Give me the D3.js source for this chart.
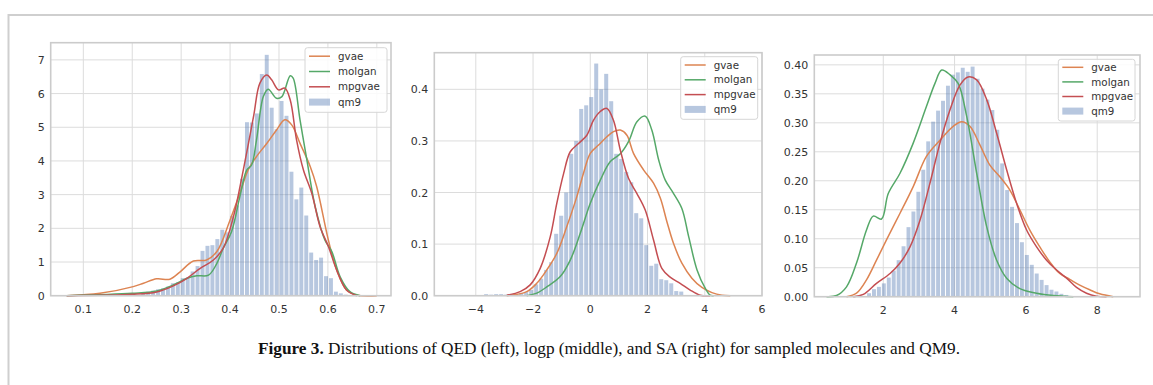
<!DOCTYPE html>
<html>
<head>
<meta charset="utf-8">
<script src="https://cdn.jsdelivr.net/npm/d3@7"></script>
<style>
  body { margin: 0; background: #fff; }
  svg text { font-family: "DejaVu Sans", sans-serif; }
</style>
</head>
<body>
<svg id="chart" width="1153" height="385"></svg>
<script>
// series names and colours (seaborn "deep")
const seriesNames = ['gvae', 'molgan', 'mpgvae', 'qm9']
const seriesColors = ['#dd8452', '#55a868', '#c44e52', '#4c72b0']

// ---- QED (left) ----
const qedBinStart = 0.2174
const qedBinWidth = 0.0101
const qedHist = [0.10,0.12,0.15,0.19,0.22,0.27,0.37,0.40,0.52,0.54,0.72,0.88,1.33,1.48,1.50,1.68,1.96,1.88,2.37,2.68,3.47,5.15,5.14,5.41,6.58,7.15,5.58,4.94,5.78,5.34,3.68,2.86,3.21,2.38,1.28,1.06,1.13,0.58,0.52,0.12,0.07,0.03]
const qedGvae = [[0.066,0],[0.134,0.07],[0.202,0.27],[0.223,0.37],[0.25,0.5],[0.277,0.49],[0.298,0.71],[0.325,1.03],[0.352,1.06],[0.373,1.31],[0.40,2.25],[0.42,3.04],[0.437,3.73],[0.454,4.13],[0.475,4.52],[0.495,4.92],[0.512,5.22],[0.526,5.07],[0.543,4.52],[0.564,3.83],[0.577,3.24],[0.601,1.65],[0.618,0.76],[0.638,0.17],[0.659,0.02],[0.70,0]]
const qedMolgan = [[0.066,0],[0.2,0.07],[0.25,0.14],[0.284,0.32],[0.311,0.51],[0.332,0.59],[0.356,0.61],[0.373,0.96],[0.386,1.41],[0.403,1.9],[0.42,2.94],[0.434,3.73],[0.444,3.88],[0.454,4.62],[0.468,5.91],[0.478,6.13],[0.495,5.86],[0.506,5.91],[0.523,6.53],[0.529,6.46],[0.543,5.22],[0.557,4.03],[0.574,2.64],[0.594,1.65],[0.608,1.31],[0.625,0.56],[0.645,0.12],[0.666,0]]
const qedMpgvae = [[0.066,0],[0.2,0.04],[0.25,0.11],[0.284,0.29],[0.311,0.51],[0.339,0.81],[0.366,1.06],[0.386,1.41],[0.407,2.35],[0.427,3.73],[0.448,5.32],[0.461,6.31],[0.475,6.55],[0.485,6.41],[0.499,6.11],[0.512,6.16],[0.523,5.81],[0.536,4.62],[0.55,3.73],[0.567,3.04],[0.584,2.05],[0.601,1.46],[0.618,0.76],[0.638,0.17],[0.659,0]]
const qedXTicks = [0.1, 0.2, 0.3, 0.4, 0.5, 0.6, 0.7]
const qedYTicks = [0, 1, 2, 3, 4, 5, 6, 7]

// ---- logp (middle) ----
const logpBinStart = -3.726
const logpBinWidth = 0.1748
const logpHist = [0.003,0.002,0.003,0.003,0.002,0.003,0.003,0.005,0.007,0.011,0.022,0.033,0.05,0.065,0.12,0.155,0.2,0.275,0.30,0.362,0.369,0.385,0.45,0.40,0.43,0.377,0.275,0.265,0.24,0.22,0.16,0.15,0.098,0.058,0.062,0.032,0.03,0.024,0.009,0.008]
const logpGvae = [[-2.92,0],[-2.22,0.008],[-1.87,0.024],[-1.52,0.05],[-1.17,0.082],[-0.82,0.134],[-0.47,0.192],[-0.24,0.237],[0.0,0.276],[0.29,0.292],[0.58,0.308],[0.81,0.318],[1.05,0.321],[1.28,0.311],[1.51,0.276],[1.86,0.244],[2.21,0.218],[2.45,0.189],[2.68,0.143],[2.91,0.101],[3.20,0.063],[3.55,0.034],[3.90,0.016],[4.25,0.006],[4.60,0.001],[4.89,0]]
const logpMolgan = [[-2.22,0],[-1.87,0.005],[-1.52,0.017],[-1.05,0.037],[-0.70,0.069],[-0.35,0.121],[0.0,0.179],[0.35,0.224],[0.70,0.26],[1.05,0.275],[1.34,0.299],[1.63,0.337],[1.92,0.348],[2.15,0.321],[2.39,0.263],[2.62,0.224],[2.91,0.198],[3.20,0.169],[3.44,0.114],[3.73,0.05],[4.02,0.014],[4.19,0.001],[4.31,0]]
const logpMpgvae = [[-2.92,0.001],[-2.45,0.008],[-2.1,0.021],[-1.75,0.053],[-1.4,0.114],[-1.17,0.179],[-0.93,0.237],[-0.70,0.279],[-0.41,0.295],[-0.12,0.311],[0.11,0.34],[0.35,0.357],[0.58,0.363],[0.81,0.34],[1.05,0.282],[1.34,0.227],[1.63,0.198],[1.92,0.166],[2.21,0.108],[2.50,0.053],[2.79,0.036],[3.14,0.024],[3.49,0.011],[3.84,0.001],[4.19,0]]
const logpXTicks = [-4, -2, 0, 2, 4, 6]
const logpYTicks = [0.0, 0.1, 0.2, 0.3, 0.4]

// ---- SA (right) ----
const saBinStart = 1.532
const saBinWidth = 0.1383
const saHist = [0.006,0.013,0.017,0.023,0.033,0.045,0.063,0.087,0.12,0.147,0.181,0.219,0.268,0.302,0.321,0.338,0.364,0.383,0.387,0.395,0.388,0.397,0.376,0.359,0.34,0.322,0.288,0.23,0.184,0.155,0.127,0.094,0.072,0.055,0.04,0.029,0.02,0.012,0.009,0.005,0.003]
const saGvae = [[0.97,0],[1.25,0.006],[1.53,0.029],[1.81,0.063],[2.09,0.098],[2.47,0.144],[2.84,0.19],[3.21,0.242],[3.59,0.27],[3.96,0.294],[4.20,0.302],[4.43,0.294],[4.71,0.262],[4.99,0.227],[5.27,0.207],[5.55,0.184],[5.83,0.15],[6.11,0.115],[6.39,0.086],[6.67,0.06],[6.95,0.04],[7.23,0.03],[7.51,0.02],[7.79,0.012],[8.07,0.005],[8.45,0]]
const saMolgan = [[0.41,0],[0.69,0.002],[0.97,0.017],[1.25,0.058],[1.53,0.115],[1.72,0.139],[1.95,0.134],[2.14,0.178],[2.47,0.213],[2.84,0.265],[3.21,0.328],[3.45,0.368],[3.64,0.391],[3.87,0.383],[4.10,0.368],[4.34,0.311],[4.62,0.213],[4.90,0.121],[5.18,0.063],[5.46,0.032],[5.83,0.014],[6.30,0.006],[6.77,0.002],[7.33,0]]
const saMpgvae = [[1.16,0],[1.44,0.004],[1.81,0.023],[2.19,0.04],[2.47,0.058],[2.75,0.086],[3.03,0.132],[3.31,0.196],[3.59,0.265],[3.87,0.322],[4.15,0.365],[4.38,0.379],[4.62,0.374],[4.90,0.34],[5.18,0.282],[5.46,0.219],[5.74,0.161],[6.02,0.115],[6.30,0.086],[6.58,0.063],[6.86,0.046],[7.14,0.032],[7.42,0.016],[7.70,0.006],[7.98,0.001],[8.26,0]]
const saXTicks = [2, 4, 6, 8]
const saYTicks = [0.00, 0.05, 0.10, 0.15, 0.20, 0.25, 0.30, 0.35, 0.40]

const captionBold = 'Figure 3.'
const captionText = ' Distributions of QED (left), logp (middle), and SA (right) for sampled molecules and QM9.'

const svg = d3.select('#chart')
svg.append('rect').attr('width', 1153).attr('height', 385).style('fill', 'white')

// outer figure frame (only left and top edges are inside the picture)
svg.append('rect')
  .attr('x', 8.5).attr('y', 15)
  .attr('width', 1160).attr('height', 400)
  .style('fill', 'none').style('stroke', '#cfcfcf').style('stroke-width', 2)

function drawPanel(p) {
  const x = d3.scaleLinear().domain(p.xDomain).range([p.left, p.right])
  const y = d3.scaleLinear().domain(p.yDomain).range([p.bottom, p.top])
  const g = svg.append('g')

  // grid
  g.selectAll('.vg').data(p.xTicks).enter().append('line')
    .attr('x1', d => x(d)).attr('x2', d => x(d))
    .attr('y1', p.top).attr('y2', p.bottom)
    .style('stroke', '#dcdcdc').style('stroke-width', 1)
  g.selectAll('.hg').data(p.yTicks).enter().append('line')
    .attr('x1', p.left).attr('x2', p.right)
    .attr('y1', d => y(d)).attr('y2', d => y(d))
    .style('stroke', '#dcdcdc').style('stroke-width', 1)

  // histogram bars
  g.selectAll('.bar').data(p.hist).enter().append('rect')
    .attr('x', (d, i) => x(p.binStart + i * p.binWidth) + 0.5)
    .attr('width', (d, i) => Math.max(0, x(p.binStart + (i + 1) * p.binWidth) - x(p.binStart + i * p.binWidth) - 1))
    .attr('y', d => y(d))
    .attr('height', d => y(0) - y(d))
    .style('fill', seriesColors[3])
    .style('opacity', 0.4)

  // density curves
  const line = d3.line()
    .x(d => x(d[0])).y(d => y(d[1]))
    .curve(d3.curveCatmullRom.alpha(0.5))
  p.curves.forEach((c, i) => {
    g.append('path').attr('d', line(c))
      .style('fill', 'none')
      .style('stroke', seriesColors[i])
      .style('stroke-width', 1.5)
  })

  // spines
  g.append('rect')
    .attr('x', p.left).attr('y', p.top)
    .attr('width', p.right - p.left).attr('height', p.bottom - p.top)
    .style('fill', 'none').style('stroke', '#cbcbcb').style('stroke-width', 1.6)

  // tick labels
  g.selectAll('.xt').data(p.xTicks).enter().append('text')
    .attr('x', d => x(d)).attr('y', p.bottom + 17.5)
    .attr('text-anchor', 'middle')
    .style('font-size', '11px').style('fill', '#333')
    .text(d => p.xFormat(d))
  g.selectAll('.yt').data(p.yTicks).enter().append('text')
    .attr('x', p.left - 6).attr('y', d => y(d) + 4)
    .attr('text-anchor', 'end')
    .style('font-size', '11px').style('fill', '#333')
    .text(d => p.yFormat(d))

  // legend
  const L = p.legend
  const lg = g.append('g').attr('transform', `translate(${L.x},${L.y})`)
  lg.append('rect')
    .attr('width', L.w).attr('height', L.h).attr('rx', 2.5)
    .style('fill', 'white').style('fill-opacity', 0.85)
    .style('stroke', '#d6d6d6').style('stroke-width', 1)
  seriesNames.forEach((name, i) => {
    const ry = L.row0 + i * L.rowGap
    if (i < 3) {
      lg.append('line')
        .attr('x1', 4).attr('x2', 25).attr('y1', ry).attr('y2', ry)
        .style('stroke', seriesColors[i]).style('stroke-width', 1.5)
    } else {
      lg.append('rect')
        .attr('x', 4).attr('y', ry - 3.5).attr('width', 21).attr('height', 7)
        .style('fill', seriesColors[3]).style('opacity', 0.4)
    }
    lg.append('text')
      .attr('x', 33).attr('y', ry + 3.7)
      .style('font-size', '10.3px').style('fill', '#333')
      .text(name)
  })
}

const minus = s => s.replace('-', '\u2212')

drawPanel({
  left: 50.7, right: 391, top: 42.7, bottom: 295.7,
  xDomain: [0.0333, 0.729], yDomain: [0, 7.51],
  xTicks: qedXTicks, yTicks: qedYTicks,
  xFormat: d3.format('.1f'), yFormat: d3.format('d'),
  binStart: qedBinStart, binWidth: qedBinWidth, hist: qedHist,
  curves: [qedGvae, qedMolgan, qedMpgvae],
  legend: { x: 305, y: 47.7, w: 82, h: 64.6, row0: 8.5, rowGap: 15.3 }
})

drawPanel({
  left: 434.3, right: 762, top: 52.7, bottom: 295.7,
  xDomain: [-5.45, 6.0], yDomain: [0, 0.471],
  xTicks: logpXTicks, yTicks: logpYTicks,
  xFormat: d => minus(d3.format('d')(d)), yFormat: d3.format('.1f'),
  binStart: logpBinStart, binWidth: logpBinWidth, hist: logpHist,
  curves: [logpGvae, logpMolgan, logpMpgvae],
  legend: { x: 680.7, y: 56.7, w: 77, h: 62.6, row0: 8.3, rowGap: 14.8 }
})

drawPanel({
  left: 814.3, right: 1140, top: 55, bottom: 296.7,
  xDomain: [0.066, 9.2], yDomain: [0, 0.417],
  xTicks: saXTicks, yTicks: saYTicks,
  xFormat: d3.format('d'), yFormat: d3.format('.2f'),
  binStart: saBinStart, binWidth: saBinWidth, hist: saHist,
  curves: [saGvae, saMolgan, saMpgvae],
  legend: { x: 1058.3, y: 59.3, w: 76.7, h: 61.7, row0: 8, rowGap: 14.6 }
})

// caption
const cap = svg.append('text')
  .attr('x', 609).attr('y', 354)
  .attr('text-anchor', 'middle')
  .style('font-family', '"Liberation Serif", serif')
  .style('font-size', '17.5px').style('fill', '#111')
cap.append('tspan').style('font-weight', 'bold').style('font-family', '"Liberation Serif", serif').text(captionBold)
cap.append('tspan').style('font-family', '"Liberation Serif", serif').text(captionText)
const capW = cap.node().getComputedTextLength()
if (Math.abs(capW - 702) > 4) cap.attr('textLength', 702).attr('lengthAdjust', 'spacingAndGlyphs')
</script>
</body>
</html>
